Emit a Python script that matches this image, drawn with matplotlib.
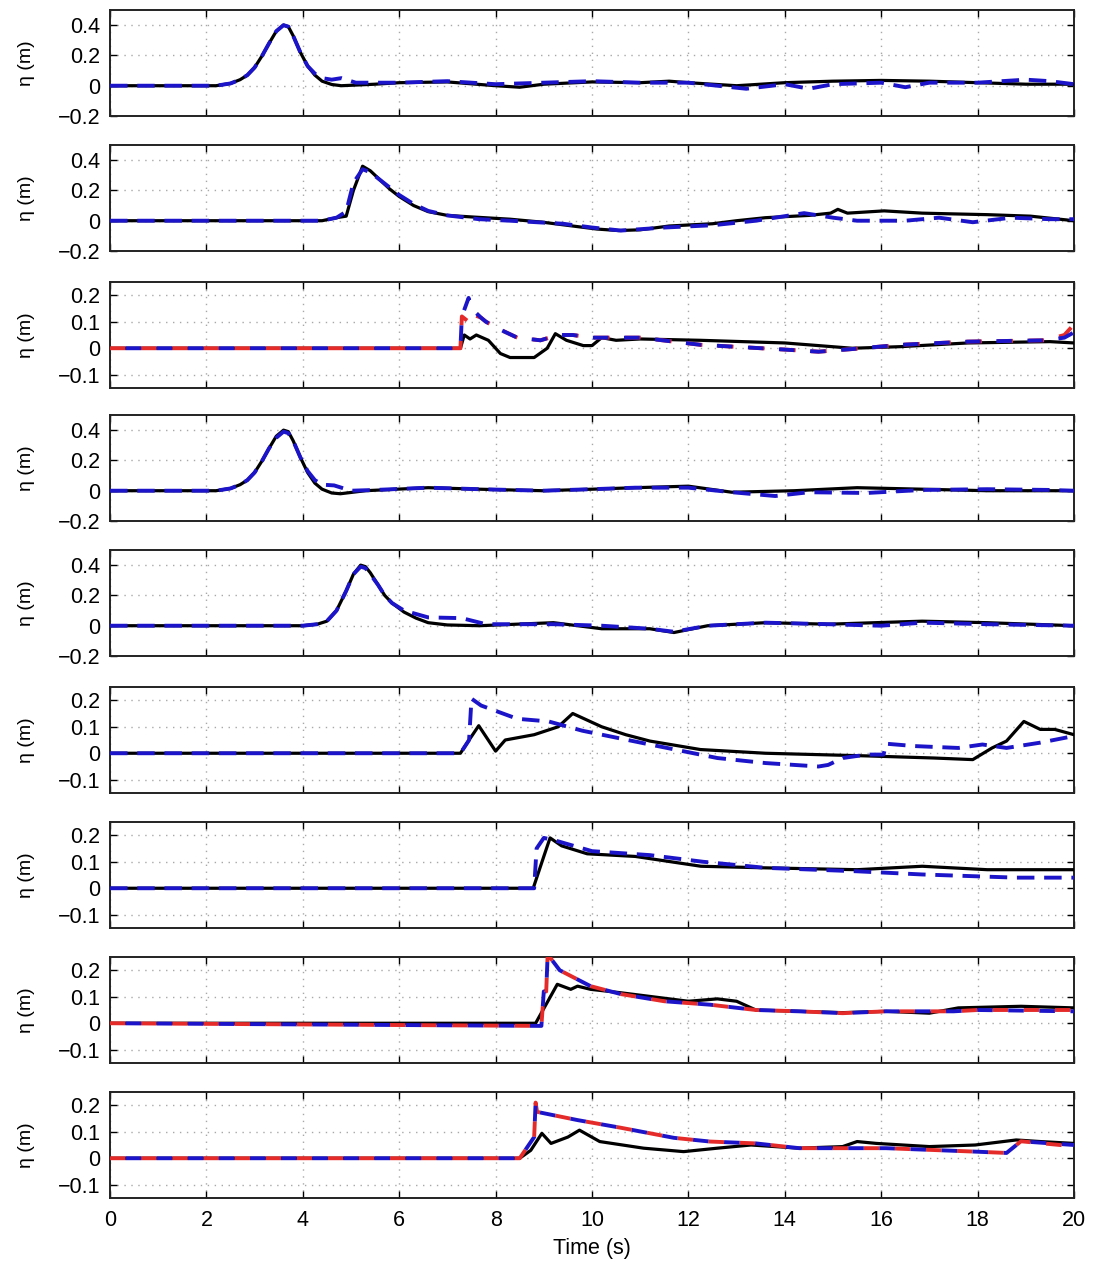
"""
Free-surface elevation time series at nine gauges: measured vs two model runs
"""

import numpy as np
import matplotlib.pyplot as plt
from matplotlib.ticker import FixedLocator, FuncFormatter

plt.rcParams['font.family'] = ['Liberation Sans', 'DejaVu Sans']

# ---- gauge 1 ----
t1_obs = [0, 2.2, 2.5, 2.7, 2.85, 3.0, 3.16, 3.3, 3.45, 3.6, 3.7, 3.8, 3.95, 4.1, 4.25, 4.4, 4.6, 4.8,
          5.5, 6.0, 7.0, 8.0, 8.5, 9.0, 10.0, 11.0, 11.6, 12.0, 13.0, 14.0, 15.0, 16.0, 17.0, 18.0, 19.0, 20.0]
eta1_obs = [0, 0, 0.015, 0.04, 0.07, 0.12, 0.2, 0.28, 0.36, 0.40, 0.39, 0.33, 0.22, 0.13, 0.07, 0.03, 0.008, 0.0,
            0.01, 0.02, 0.025, 0.0, -0.01, 0.01, 0.025, 0.02, 0.03, 0.02, 0.0, 0.02, 0.03, 0.035, 0.03, 0.02, 0.01, 0.01]
t1_mod = [0, 2.2, 2.5, 2.7, 2.85, 3.0, 3.16, 3.3, 3.45, 3.6, 3.7, 3.8, 3.95, 4.1, 4.25, 4.4, 4.6, 4.8, 5.1,
          6.0, 7.0, 8.0, 9.0, 10.0, 11.0, 12.0, 13.2, 14.0, 14.5, 15.0, 16.0, 16.5, 17.0, 18.0, 19.0, 19.5, 20.0]
eta1_blue = [0, 0, 0.015, 0.04, 0.07, 0.12, 0.2, 0.28, 0.36, 0.40, 0.39, 0.33, 0.22, 0.13, 0.08, 0.05, 0.04, 0.05, 0.02,
             0.02, 0.03, 0.01, 0.02, 0.03, 0.02, 0.02, -0.02, 0.01, -0.02, 0.01, 0.02, -0.01, 0.02, 0.02, 0.04, 0.03, 0.01]

# ---- gauge 2 ----
t2_obs = [0, 4.4, 4.7, 4.9, 5.05, 5.24, 5.4, 5.6, 5.8, 6.0, 6.3, 6.6, 7.0, 7.5, 8.3, 8.98, 9.6, 10.1,
          10.55, 11.0, 11.6, 12.5, 13.0, 13.6, 14.5, 14.95, 15.1, 15.3, 16.06, 16.85, 17.5, 18.2, 19.1, 20]
eta2_obs = [0, 0, 0.02, 0.03, 0.2, 0.36, 0.33, 0.27, 0.21, 0.16, 0.1, 0.06, 0.035, 0.025, 0.01, -0.01, -0.035, -0.055,
            -0.065, -0.06, -0.035, -0.02, 0.0, 0.02, 0.035, 0.05, 0.075, 0.05, 0.065, 0.05, 0.045, 0.04, 0.03, 0.0]
t2_mod = [0, 4.4, 4.7, 4.9, 5.05, 5.24, 5.4, 5.6, 5.8, 6.0, 6.3, 6.6, 7.0, 7.66, 8.3, 9.4, 10.0, 10.6,
          11.5, 12.5, 13.4, 14.0, 14.4, 15.0, 15.5, 16.5, 17.2, 17.9, 18.7, 19.5, 20]
eta2_blue = [0, 0, 0.02, 0.06, 0.25, 0.34, 0.32, 0.27, 0.22, 0.17, 0.11, 0.065, 0.035, 0.01, 0.0, -0.02, -0.045, -0.065,
             -0.045, -0.03, 0.0, 0.03, 0.05, 0.02, 0.0, 0.0, 0.02, -0.01, 0.02, 0.01, 0.01]

# ---- gauge 3 ----
t3_obs = [0, 7.27, 7.35, 7.47, 7.6, 7.85, 8.1, 8.3, 8.8, 9.07, 9.24, 9.47, 9.82, 10.0, 10.2, 10.5,
          11.0, 12.25, 14.0, 15.4, 16.4, 17.8, 19.5, 20]
eta3_obs = [0, 0, 0.05, 0.035, 0.05, 0.03, -0.02, -0.035, -0.035, 0.0, 0.055, 0.03, 0.01, 0.01, 0.04, 0.03,
            0.035, 0.03, 0.02, 0.0, 0.006, 0.02, 0.025, 0.02]
t3_mod = [0, 7.27, 7.3, 7.44, 7.5, 7.7, 7.8, 8.1, 8.45, 8.93, 9.3, 9.6, 10.0, 11.0, 12.25, 14.0,
          14.7, 15.4, 16.4, 17.8, 19.4, 19.8, 20]
eta3_red = [0, 0, 0.12, 0.1, 0.13, 0.115, 0.1, 0.07, 0.04, 0.03, 0.05, 0.05, 0.04, 0.04, 0.013, -0.005,
            -0.013, -0.003, 0.013, 0.025, 0.03, 0.05, 0.09]
eta3_blue = [0, 0, 0.12, 0.19, 0.15, 0.115, 0.1, 0.07, 0.04, 0.03, 0.05, 0.05, 0.04, 0.04, 0.013, -0.005,
             -0.013, -0.003, 0.013, 0.025, 0.03, 0.04, 0.06]

# ---- gauge 4 ----
t4_obs = [0, 2.2, 2.5, 2.7, 2.85, 3.0, 3.16, 3.3, 3.45, 3.6, 3.7, 3.8, 3.95, 4.1, 4.25, 4.4, 4.6, 4.78,
          5.3, 6.6, 7.66, 8.98, 10.0, 10.9, 12.0, 12.9, 14.2, 15.5, 16.85, 18.2, 20]
eta4_obs = [0, 0, 0.015, 0.04, 0.07, 0.12, 0.2, 0.28, 0.36, 0.40, 0.39, 0.33, 0.22, 0.12, 0.05, 0.01, -0.015, -0.02,
            0.0, 0.02, 0.01, 0.0, 0.01, 0.02, 0.03, -0.01, 0.0, 0.02, 0.01, 0.0, 0.0]
t4_mod = [0, 2.2, 2.5, 2.7, 2.85, 3.0, 3.16, 3.3, 3.45, 3.6, 3.7, 3.8, 3.95, 4.1, 4.25, 4.4, 4.65, 5.0,
          5.5, 6.6, 7.66, 8.98, 10.0, 10.9, 12.0, 12.9, 13.8, 14.5, 15.7, 16.85, 18.2, 19.5, 20]
eta4_blue = [0, 0, 0.015, 0.04, 0.07, 0.12, 0.2, 0.28, 0.35, 0.39, 0.38, 0.33, 0.22, 0.13, 0.07, 0.04, 0.035, 0.0,
             0.005, 0.02, 0.01, 0.0, 0.01, 0.02, 0.02, -0.01, -0.035, -0.01, -0.015, 0.005, 0.01, 0.005, 0.0]

# ---- gauge 5 ----
t5_obs = [0, 4.0, 4.3, 4.5, 4.7, 4.9, 5.05, 5.2, 5.3, 5.4, 5.56, 5.7, 5.85, 6.1, 6.35, 6.6, 7.0, 7.66,
          9.2, 10.2, 11.2, 11.7, 12.4, 13.6, 14.9, 16.85, 18.2, 20]
eta5_obs = [0, 0, 0.01, 0.03, 0.1, 0.23, 0.34, 0.40, 0.39, 0.35, 0.27, 0.2, 0.15, 0.09, 0.05, 0.02, 0.005, 0.0,
            0.02, -0.02, -0.02, -0.045, 0.0, 0.02, 0.01, 0.03, 0.02, 0.0]
t5_mod = [0, 4.0, 4.3, 4.5, 4.7, 4.9, 5.05, 5.2, 5.3, 5.4, 5.56, 5.7, 5.85, 6.1, 6.6, 7.3, 7.8,
          9.2, 10.2, 11.2, 11.7, 12.4, 13.6, 14.9, 16.0, 16.85, 18.2, 20]
eta5_blue = [0, 0, 0.01, 0.03, 0.1, 0.23, 0.34, 0.39, 0.38, 0.34, 0.27, 0.2, 0.15, 0.1, 0.055, 0.05, 0.01,
             0.01, 0.0, -0.02, -0.04, 0.0, 0.02, 0.01, 0.0, 0.02, 0.01, 0.0]

# ---- gauge 6 ----
t6_obs = [0, 7.27, 7.45, 7.65, 8.0, 8.2, 8.8, 9.3, 9.6, 10.2, 10.7, 11.2, 12.25, 13.6, 15.7, 17.1, 17.9,
          18.3, 18.6, 18.96, 19.3, 19.6, 20]
eta6_obs = [0, 0, 0.05, 0.104, 0.008, 0.05, 0.07, 0.1, 0.15, 0.1, 0.07, 0.046, 0.014, 0.0, -0.01, -0.018, -0.024,
            0.02, 0.046, 0.12, 0.09, 0.09, 0.07]
t6_mod = [0, 7.27, 7.45, 7.5, 7.7, 8.45, 9.1, 9.8, 11.2, 12.6, 13.6, 14.7, 14.9, 15.2, 15.7, 16.05,
          16.1, 16.7, 17.6, 18.1, 18.6, 19.3, 20]
eta6_blue = [0, 0, 0.05, 0.206, 0.18, 0.13, 0.12, 0.085, 0.033, -0.018, -0.037, -0.05, -0.044, -0.018, -0.005, -0.005,
             0.036, 0.027, 0.02, 0.033, 0.02, 0.04, 0.065]

# ---- gauge 7 ----
t7_obs = [0, 8.78, 9.0, 9.13, 9.37, 9.9, 10.9, 12.26, 13.6, 15.5, 16.85, 18.2, 20]
eta7_obs = [0, 0, 0.12, 0.19, 0.16, 0.13, 0.12, 0.083, 0.077, 0.07, 0.083, 0.07, 0.07]
t7_mod = [0, 8.8, 8.85, 9.0, 9.24, 10.0, 11.2, 12.3, 13.6, 15.5, 16.85, 18.8, 20]
eta7_blue = [0, 0, 0.15, 0.19, 0.18, 0.14, 0.125, 0.1, 0.077, 0.064, 0.052, 0.04, 0.04]

# ---- gauge 8 ----
t8_obs = [0, 8.83, 9.28, 9.56, 9.7, 9.97, 10.6, 12.0, 12.6, 13.0, 13.4, 14.3, 15.2, 16.1, 17.0, 17.6,
          18.9, 20]
eta8_obs = [0, 0, 0.147, 0.128, 0.14, 0.128, 0.115, 0.083, 0.092, 0.083, 0.05, 0.045, 0.04, 0.045, 0.038, 0.058,
            0.064, 0.058]
t8_mod = [0, 8.95, 9.0, 9.05, 9.08, 9.33, 9.97, 10.6, 11.5, 12.45, 13.4, 14.3, 15.2, 16.1, 17.5, 18.0, 20]
eta8_red = [0, -0.01, 0.12, 0.12, 0.26, 0.2, 0.14, 0.11, 0.083, 0.07, 0.05, 0.045, 0.038, 0.045, 0.045, 0.05, 0.05]
eta8_blue = [0, -0.01, 0.12, 0.12, 0.26, 0.2, 0.14, 0.11, 0.083, 0.07, 0.05, 0.045, 0.038, 0.045, 0.045, 0.05, 0.045]

# ---- gauge 9 ----
t9_obs = [0, 8.5, 8.73, 8.96, 9.15, 9.5, 9.74, 10.16, 11.07, 11.9, 12.6, 13.3, 14.3, 15.2, 15.5, 15.9,
          17.0, 17.95, 18.8, 19.3, 20]
eta9_obs = [0, 0, 0.03, 0.094, 0.056, 0.08, 0.106, 0.063, 0.038, 0.025, 0.038, 0.05, 0.038, 0.044, 0.063, 0.056,
            0.044, 0.05, 0.069, 0.063, 0.056]
t9_mod = [0, 8.5, 8.8, 8.83, 8.86, 9.7, 10.6, 11.7, 12.45, 13.4, 14.3, 15.2, 16.1, 17.95, 18.6, 18.9, 20]
eta9_red = [0, 0, 0.08, 0.21, 0.175, 0.144, 0.115, 0.077, 0.063, 0.056, 0.038, 0.038, 0.038, 0.025, 0.02, 0.064, 0.045]
eta9_blue = [0, 0, 0.08, 0.21, 0.175, 0.144, 0.115, 0.077, 0.063, 0.056, 0.038, 0.038, 0.038, 0.025, 0.02, 0.064, 0.05]

x_ticks = list(range(0, 21, 2))
big_ticks = [-0.2, 0, 0.2, 0.4]
small_ticks = [-0.1, 0, 0.1, 0.2]

panels = [
    (t1_obs, eta1_obs, t1_mod, None, eta1_blue, 'big'),
    (t2_obs, eta2_obs, t2_mod, None, eta2_blue, 'big'),
    (t3_obs, eta3_obs, t3_mod, eta3_red, eta3_blue, 'small'),
    (t4_obs, eta4_obs, t4_mod, None, eta4_blue, 'big'),
    (t5_obs, eta5_obs, t5_mod, None, eta5_blue, 'big'),
    (t6_obs, eta6_obs, t6_mod, None, eta6_blue, 'small'),
    (t7_obs, eta7_obs, t7_mod, None, eta7_blue, 'small'),
    (t8_obs, eta8_obs, t8_mod, eta8_red, eta8_blue, 'small'),
    (t9_obs, eta9_obs, t9_mod, eta9_red, eta9_blue, 'small'),
]


def fmt(v, pos):
    if abs(v) < 1e-9:
        return '0'
    return ('%g' % v).replace('-', '\u2212')


W, H = 1093, 1272
fig = plt.figure(figsize=(W / 100, H / 100), dpi=100)

tops = [10, 145, 282, 415, 550, 687, 822, 957, 1092]
ph = 106
left, right = 110, 1074

BLUE = '#1c14c8'
RED = '#e52a2a'

axes = []
for i, (to, yo, tm, yr, yb, kind) in enumerate(panels):
    ax = fig.add_axes([left / W, 1 - (tops[i] + ph) / H, (right - left) / W, ph / H])
    axes.append(ax)

    ax.plot(to, yo, color='black', lw=2.3, zorder=3)
    if yr is not None:
        # red and blue runs overlap, so their dashes alternate
        ax.plot(tm, yr, color=RED, lw=2.8, linestyle=(0, (4, 4)), zorder=4)
        ax.plot(tm, yb, color=BLUE, lw=2.8, linestyle=(4, (4, 4)), zorder=5)
    else:
        ax.plot(tm, yb, color=BLUE, lw=2.8, linestyle=(0, (4.5, 2.5)), zorder=5)

    ax.set_xlim(0, 20)
    if kind == 'big':
        ax.set_ylim(-0.2, 0.5)
        ax.yaxis.set_major_locator(FixedLocator(big_ticks))
    else:
        ax.set_ylim(-0.15, 0.25)
        ax.yaxis.set_major_locator(FixedLocator(small_ticks))
    ax.yaxis.set_major_formatter(FuncFormatter(fmt))
    ax.xaxis.set_major_locator(FixedLocator(x_ticks))

    ax.grid(True, linestyle=(0, (1, 4)), color='#a8a8a8', linewidth=1.0)
    ax.tick_params(direction='in', top=True, right=True, length=5, width=1,
                   labelsize=15.5, pad=7)
    for s in ax.spines.values():
        s.set_linewidth(1.4)
        s.set_color('#222222')
    ax.set_ylabel('\u03b7 (m)', fontsize=14)
    ax.yaxis.set_label_coords(-0.078, 0.5)
    if i < len(panels) - 1:
        ax.tick_params(labelbottom=False)

axes[-1].tick_params(axis='x', pad=9)
axes[-1].set_xlabel('Time (s)', fontsize=15.5, labelpad=5)

plt.savefig('out.png', dpi=100)
plt.close()
